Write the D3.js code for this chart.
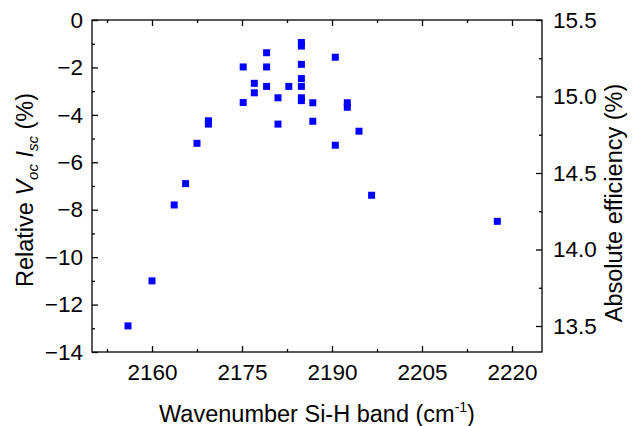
<!DOCTYPE html>
<html>
<head>
<meta charset="utf-8">
<script src="https://cdn.jsdelivr.net/npm/d3@7"></script>
<style>
  body { margin: 0; background: #fff; }
  svg { font-family: "Liberation Sans", Arial, sans-serif; }
</style>
</head>
<body>
<div id="chart"></div>
<script>
const width = 637,
    height = 426;
const margin = { top: 20, right: 95, bottom: 74, left: 92 };

// Si-H band position (cm-1) and relative Voc*Isc (%)
const wavenumber = [2156, 2160, 2163.7, 2165.6, 2167.5, 2169.4, 2169.4, 2175.2, 2175.2, 2177.05,
    2177.05, 2179.1, 2179.1, 2179.1, 2181, 2181, 2182.8, 2184.9, 2184.9, 2184.9,
    2184.9, 2184.9, 2184.9, 2184.9, 2186.8, 2186.8, 2190.55, 2190.55, 2192.55, 2192.55,
    2194.5, 2196.6, 2217.55];
const relative = [-12.9, -11.0, -7.8, -6.9, -5.2, -4.25, -4.39, -1.98, -3.48, -2.67,
    -3.07, -1.38, -1.98, -2.8, -3.28, -4.39, -2.8, -0.95, -1.1, -1.87,
    -2.47, -2.8, -3.28, -3.4, -3.49, -4.27, -1.57, -5.28, -3.49, -3.68,
    -4.69, -7.39, -8.49];

const xTicks = [2160, 2175, 2190, 2205, 2220];
const yTicks = [0, -2, -4, -6, -8, -10, -12, -14];
const effTicks = [13.5, 14.0, 14.5, 15.0, 15.5];

const innerW = width - margin.left - margin.right,
    innerH = height - margin.top - margin.bottom;

const svg = d3.select("#chart")
    .append("svg")
    .attr("width", width)
    .attr("height", height);

const g = svg.append("g")
    .attr("transform", `translate(${margin.left}, ${margin.top})`);

const x = d3.scaleLinear().domain([2150, 2225]).range([0, innerW]);
const y = d3.scaleLinear().domain([-14, 0]).range([innerH, 0]);
// efficiency axis: 15.5 % corresponds to relative 0
const y2 = d3.scaleLinear().domain([15.5 * 0.86, 15.5]).range([innerH, 0]);

const minorX = d3.range(2152.5, 2225, 7.5).filter(v => !xTicks.includes(v));
const minorY = d3.range(-13, 0, 2);
const minorEff = [13.75, 14.25, 14.75, 15.25];

function styleAxis(sel) {
    sel.select(".domain").remove();
    sel.selectAll("line").attr("stroke", "#000").attr("stroke-width", 1.3);
    sel.selectAll("text").attr("fill", "#000").style("font-size", "22.5px");
}

// bottom
g.append("g").attr("transform", `translate(0, ${innerH})`)
    .call(d3.axisBottom(x).tickValues(xTicks).tickSize(-6).tickPadding(12).tickFormat(d3.format("d")))
    .call(styleAxis);
g.append("g").attr("transform", `translate(0, ${innerH})`)
    .call(d3.axisBottom(x).tickValues(minorX).tickSize(-3).tickFormat(""))
    .call(styleAxis);
// top
g.append("g")
    .call(d3.axisTop(x).tickValues(xTicks).tickSize(-6).tickFormat(""))
    .call(styleAxis);
g.append("g")
    .call(d3.axisTop(x).tickValues(minorX).tickSize(-3).tickFormat(""))
    .call(styleAxis);
// left
g.append("g")
    .call(d3.axisLeft(y).tickValues(yTicks).tickSize(-6).tickPadding(9).tickFormat(d3.format("d")))
    .call(styleAxis);
g.append("g")
    .call(d3.axisLeft(y).tickValues(minorY).tickSize(-3).tickFormat(""))
    .call(styleAxis);
// right
g.append("g").attr("transform", `translate(${innerW}, 0)`)
    .call(d3.axisRight(y2).tickValues(effTicks).tickSize(-6).tickPadding(11).tickFormat(d3.format(".1f")))
    .call(styleAxis);
g.append("g").attr("transform", `translate(${innerW}, 0)`)
    .call(d3.axisRight(y2).tickValues(minorEff).tickSize(-3).tickFormat(""))
    .call(styleAxis);

// frame
g.append("rect")
    .attr("width", innerW)
    .attr("height", innerH)
    .attr("fill", "none")
    .attr("stroke", "#000")
    .attr("stroke-width", 1.3);

// points
const s = 7;
g.selectAll("rect.pt")
    .data(wavenumber.map((w, i) => [w, relative[i]]))
    .join("rect")
    .attr("class", "pt")
    .attr("x", d => x(d[0]) - s / 2)
    .attr("y", d => y(d[1]) - s / 2)
    .attr("width", s)
    .attr("height", s)
    .attr("fill", "#0000ff");

// titles
svg.append("text")
    .attr("x", margin.left + innerW / 2)
    .attr("y", 422)
    .attr("text-anchor", "middle")
    .style("font-size", "23.5px")
    .html('Wavenumber Si-H band (cm<tspan dy="-10" font-size="14">-1</tspan><tspan dy="10">)</tspan>');

svg.append("text")
    .attr("transform", "translate(33, 190) rotate(-90)")
    .attr("text-anchor", "middle")
    .style("font-size", "23.5px")
    .html('Relative <tspan font-style="italic">V</tspan><tspan font-style="italic" font-size="15" dy="5">oc</tspan><tspan font-style="italic" dy="-5"> I</tspan><tspan font-style="italic" font-size="15" dy="5">sc</tspan><tspan dy="-5"> (%)</tspan>');

svg.append("text")
    .attr("transform", "translate(622, 203) rotate(-90)")
    .attr("text-anchor", "middle")
    .style("font-size", "23.5px")
    .text("Absolute efficiency (%)");
</script>
</body>
</html>
